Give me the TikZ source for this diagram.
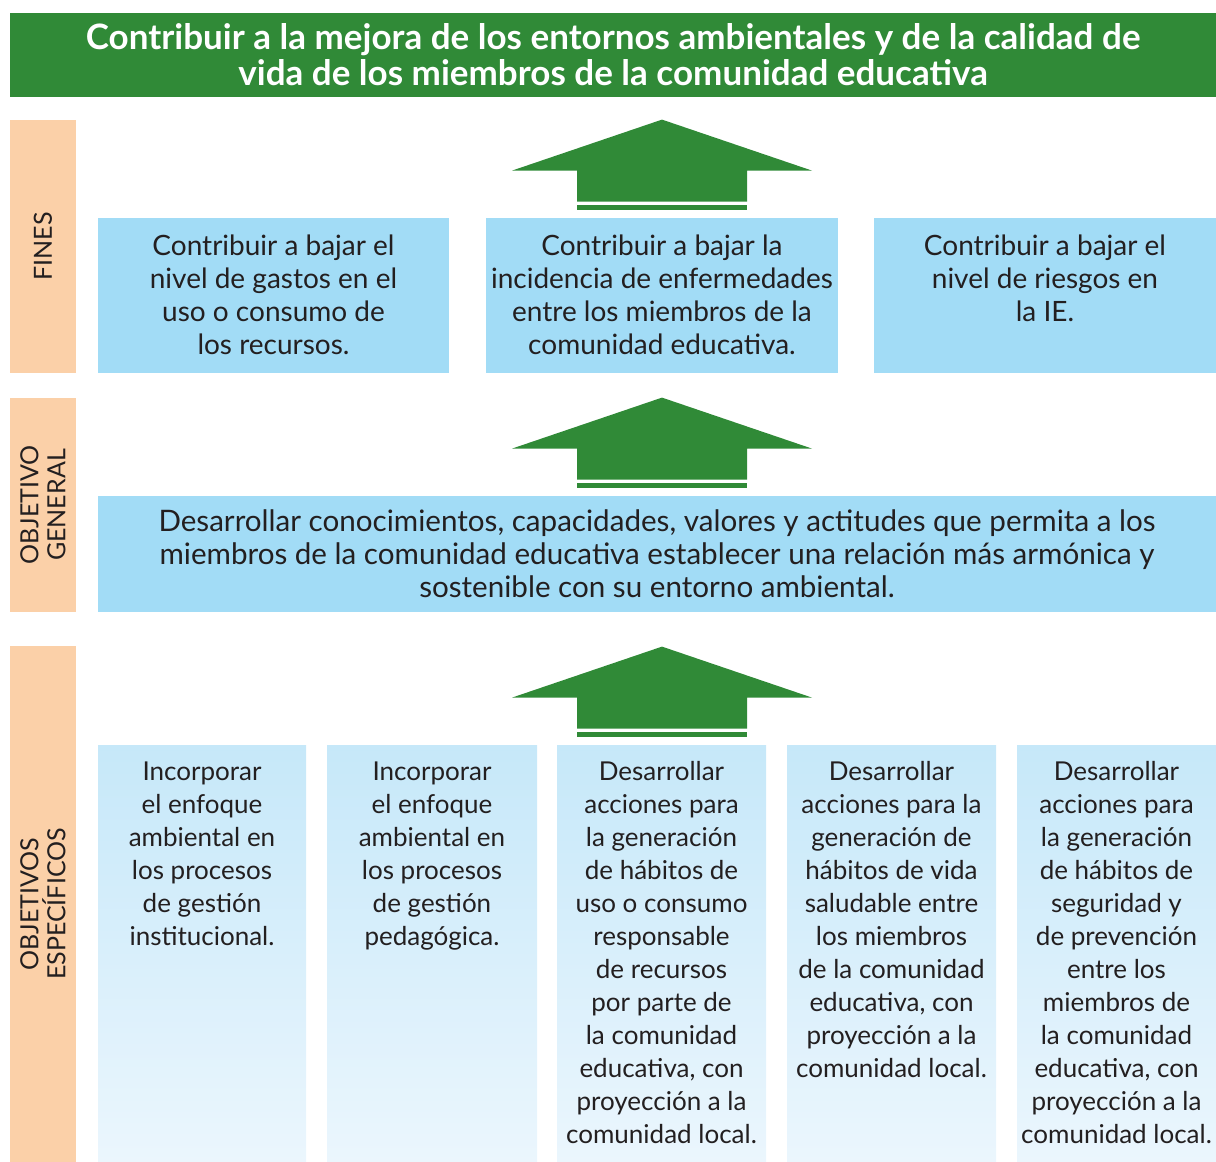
\documentclass[tikz,border=0pt]{standalone}
\usepackage{fontspec}
\setmainfont{Lato}
\usetikzlibrary{positioning,calc}
\definecolor{peGreen}{HTML}{308A37}
\definecolor{peBand}{HTML}{FBD0A8}
\definecolor{peBlue}{HTML}{A2DCF6}
\definecolor{peSkyTop}{HTML}{C6E8F9}
\definecolor{peSkyBot}{HTML}{EBF6FD}
\definecolor{peText}{HTML}{231F20}
\newcommand{\topbox}[3]{\parbox[t][#2][t]{#1}{\centering\vspace*{8pt}#3}}
\tikzset{
  titlebar/.style={
    fill=peGreen, text=white, minimum width=603pt, minimum height=42pt,
    inner sep=0pt, align=center, font=\fontsize{17.5}{18}\selectfont\bfseries
  },
  band/.style={
    fill=peBand, text=peText, rotate=90, minimum height=33pt, inner sep=0pt,
    align=center, font=\fontsize{12.5}{13.5}\selectfont
  },
  finbox/.style={
    fill=peBlue, text=peText, minimum height=77.5pt, inner sep=0pt,
    font=\fontsize{14}{16.5}\selectfont
  },
  genbox/.style={
    fill=peBlue, text=peText, minimum width=559pt, minimum height=58pt,
    inner sep=0pt, align=center, font=\fontsize{14.8}{16.5}\selectfont
  },
  objbox/.style={
    shade, top color=peSkyTop, bottom color=peSkyBot, text=peText,
    minimum height=208.5pt, inner sep=0pt, font=\fontsize{13}{16.5}\selectfont
  },
  blockarrow/.pic={
    \fill[peGreen] (-150,51) -- (0,0) -- (150,51) -- (85,51) -- (85,82)
      -- (-85,82) -- (-85,51) -- cycle;
    \fill[peGreen] (-85,85) rectangle (85,90);
  }
}
\begin{document}
\begin{tikzpicture}[x=0.5pt,y=-0.5pt]
  \useasboundingbox (0,0) rectangle (1216,1162);
  % goal on top
  \node[titlebar] (meta) at (613,55) {Contribuir a la mejora de los entornos ambientales y de la calidad de\\vida de los miembros de la comunidad educativa};

  % side bands
  \node[band, minimum width=126.5pt] (bfin) at (43,246.5) {FINES};
  \node[band, minimum width=107pt] (bgen) at (43,505) {OBJETIVO\\GENERAL};
  \node[band, minimum width=258pt] (besp) at (43,904) {OBJETIVOS\\ESPECÍFICOS};

  % fines
  \node[finbox, minimum width=175.5pt] (f1) at (273.5,295.5) {\topbox{175pt}{77pt}{Contribuir a bajar el\\nivel de gastos en el\\uso o consumo de\\los recursos.}};
  \node[finbox, minimum width=176pt] (f2) at (662,295.5) {\topbox{176pt}{77pt}{Contribuir a bajar la\\incidencia de enfermedades\\entre los miembros de la\\comunidad educativa.}};
  \node[finbox, minimum width=171pt] (f3) at (1045,295.5) {\topbox{170pt}{77pt}{Contribuir a bajar el\\nivel de riesgos en\\la IE.}};

  % objetivo general
  \node[genbox] (gen) at (657,554) {Desarrollar conocimientos, capacidades, valores y actitudes que permita a los\\miembros de la comunidad educativa establecer una relación más armónica y\\sostenible con su entorno ambiental.};

  % objetivos especificos
  \node[objbox, minimum width=104pt] (o1) at (202,953.5) {\topbox{104pt}{208pt}{Incorporar\\el enfoque\\ambiental en\\los procesos\\de gestión\\institucional.}};
  \node[objbox, minimum width=105pt] (o2) at (432,953.5) {\topbox{105pt}{208pt}{Incorporar\\el enfoque\\ambiental en\\los procesos\\de gestión\\pedagógica.}};
  \node[objbox, minimum width=104.5pt] (o3) at (661.5,953.5) {\topbox{104pt}{208pt}{Desarrollar\\acciones para\\la generación\\de hábitos de\\uso o consumo\\responsable\\de recursos\\por parte de\\la comunidad\\educativa, con\\proyección a la\\comunidad local.}};
  \node[objbox, minimum width=104.5pt] (o4) at (891.5,953.5) {\topbox{104pt}{208pt}{Desarrollar\\acciones para la\\generación de\\hábitos de vida\\saludable entre\\los miembros\\de la comunidad\\educativa, con\\proyección a la\\comunidad local.}};
  \node[objbox, minimum width=99.5pt] (o5) at (1116.5,953.5) {\topbox{99pt}{208pt}{Desarrollar\\acciones para\\la generación\\de hábitos de\\seguridad y\\de prevención\\entre los\\miembros de\\la comunidad\\educativa, con\\proyección a la\\comunidad local.}};

  % arrows between levels
  \pic at ($(f2.north)+(0,-98)$) {blockarrow};
  \pic at ($(gen.north)+(5,-98)$) {blockarrow};
  \pic at ($(o3.north)+(0.5,-98)$) {blockarrow};
\end{tikzpicture}
\end{document}
